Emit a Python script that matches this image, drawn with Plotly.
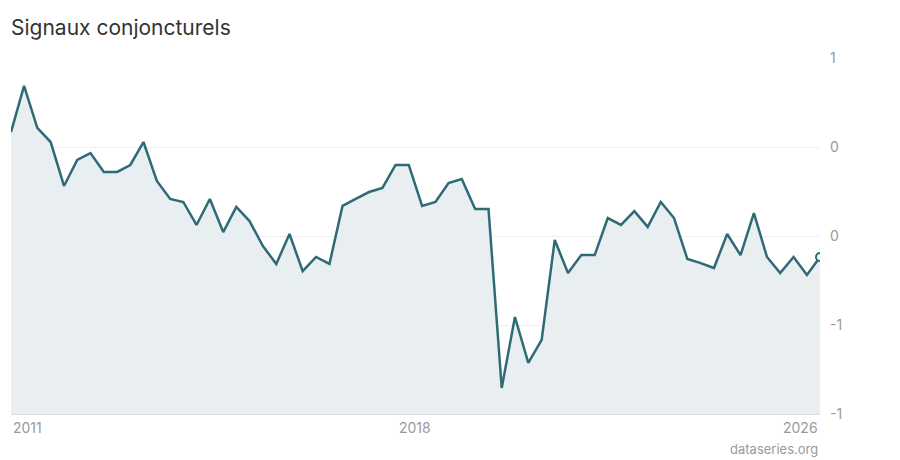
import plotly.graph_objects as go
import pandas as pd

dates = pd.date_range("2011-01-01", periods=62, freq="QS").strftime("%Y-%m-%d").tolist()
values = [0.584, 0.843, 0.607, 0.528, 0.281, 0.427, 0.466, 0.360, 0.360, 0.399,
          0.528, 0.309, 0.208, 0.191, 0.062, 0.208, 0.022, 0.163, 0.084, -0.056,
          -0.157, 0.011, -0.197, -0.118, -0.157, 0.169, 0.208, 0.247, 0.270, 0.399,
          0.399, 0.169, 0.191, 0.298, 0.320, 0.152, 0.152, -0.854, -0.455, -0.713,
          -0.584, -0.022, -0.208, -0.107, -0.107, 0.101, 0.062, 0.140, 0.051, 0.191,
          0.101, -0.129, -0.152, -0.180, 0.011, -0.107, 0.129, -0.118, -0.208, -0.118,
          -0.219, -0.118]
y_tickvals = [1, 0.5, 0, -0.5, -1]
y_ticktext = ["1", "0", "0", "-1", "-1"]
x_labels = ["2011", "2018", "2026"]

LINE = "#2e6b77"
FILL = "#e9eef0"
GREY = "#9a9a9a"

W, H = 900, 460

fig = go.Figure()
fig.add_trace(go.Scatter(x=dates, y=[-1] * len(dates), mode="lines",
                         line=dict(width=0), hoverinfo="skip", showlegend=False))
fig.add_trace(go.Scatter(x=dates, y=values, mode="lines", fill="tonexty",
                         fillcolor=FILL, line=dict(color=LINE, width=2.5),
                         showlegend=False))
fig.add_trace(go.Scatter(x=[dates[-1]], y=[values[-1]], mode="markers",
                         marker=dict(size=8, color="white",
                                     line=dict(color=LINE, width=2)),
                         showlegend=False))

t0, t1 = pd.Timestamp(dates[0]), pd.Timestamp(dates[-1])
mid = (t0 + (t1 - t0) / 2).strftime("%Y-%m-%d")
anchors = [(dates[0], "left"), (mid, "center"), (dates[-1], "right")]
for (d, xa), lab in zip(anchors, x_labels):
    fig.add_annotation(x=d, y=0, xref="x", yref="paper", text=lab,
                       showarrow=False, xanchor=xa, yanchor="top", yshift=-3,
                       font=dict(size=14, color=GREY))

fig.add_annotation(x=1, y=0, xref="paper", yref="paper", text="dataseries.org",
                   showarrow=False, xanchor="right", yanchor="top", yshift=-25,
                   font=dict(size=13, color=GREY))

fig.update_layout(
    width=W, height=H,
    margin=dict(l=11, r=80, t=58, b=46),
    paper_bgcolor="white", plot_bgcolor="white",
    font=dict(family="Inter, sans-serif"),
    title=dict(text="Signaux conjoncturels", x=11 / W, xanchor="left",
               y=1 - 28 / H, yanchor="middle",
               font=dict(size=21, color="#333333")),
    hovermode=False,
)
fig.update_xaxes(range=[dates[0], dates[-1]], showticklabels=False,
                 showgrid=False, zeroline=False, showline=True,
                 linecolor="#dddddd", linewidth=1)
fig.update_yaxes(range=[-1, 1], side="right", tickvals=y_tickvals,
                 ticktext=y_ticktext, showgrid=True, gridcolor="#efefef",
                 zeroline=False, ticks="", tickfont=dict(size=14, color=GREY),
                 ticklabelstandoff=9)

fig.write_html("out.html",
               config={"displayModeBar": False},
               post_script="document.body.style.margin='0';"
                           "document.body.style.overflow='hidden';")
